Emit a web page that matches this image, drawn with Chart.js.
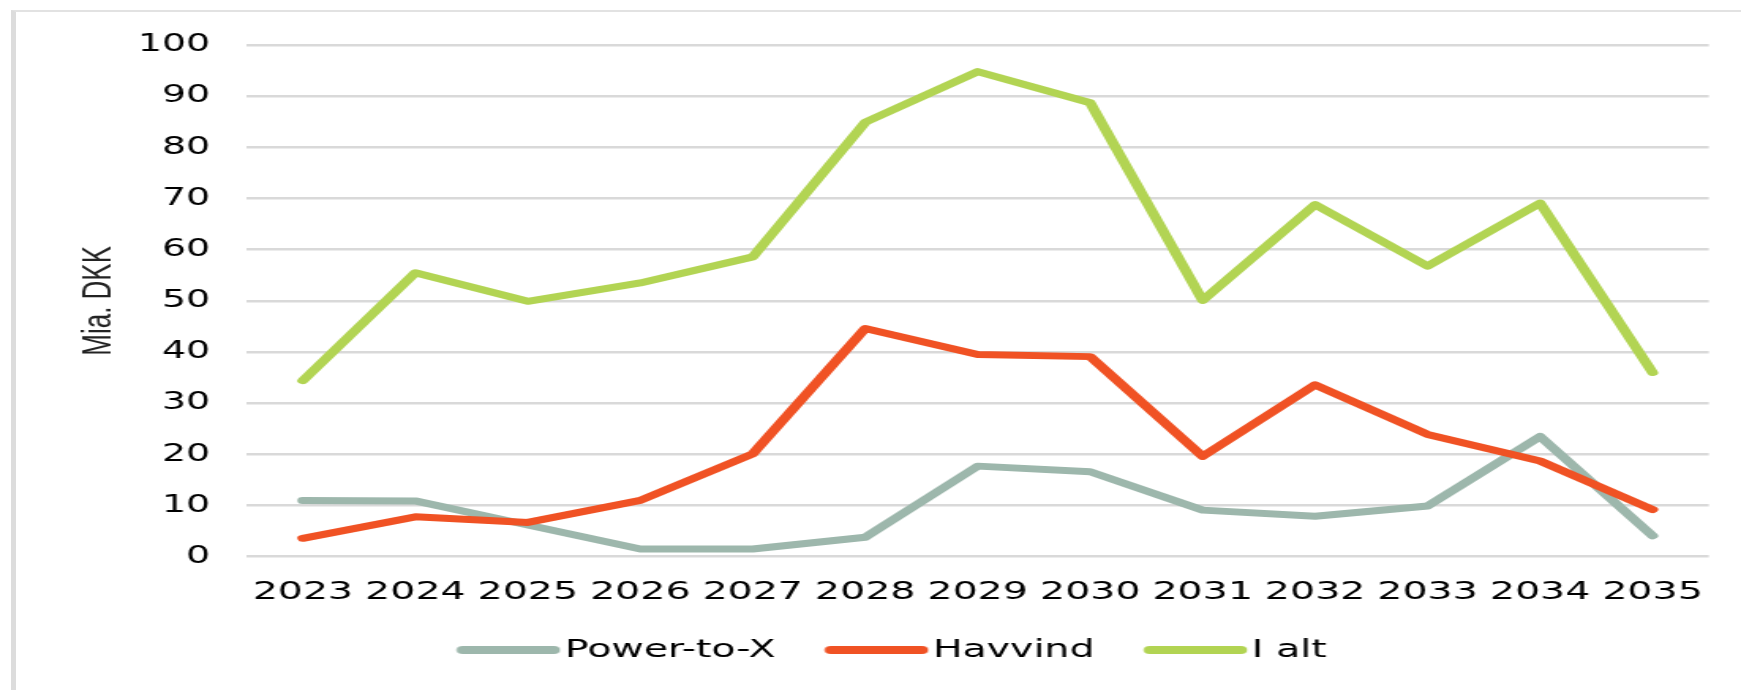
<!DOCTYPE html>
<html>
<head>
<meta charset="utf-8">
<script src="https://cdn.jsdelivr.net/npm/chart.js@4.4.1/dist/chart.umd.min.js"></script>
<style>
  html, body { margin: 0; padding: 0; background: #fff; }
  body { width: 1741px; height: 690px; overflow: hidden; position: relative; }
  #frame {
    position: absolute; left: 11px; top: 10px; width: 1800px; height: 720px;
    border-left: 5px solid #dcdcdc; border-top: 2px solid #e2e2e2;
  }
  #c { position: absolute; left: 0; top: 0; }
</style>
</head>
<body>
<div id="frame"></div>
<!-- the source picture is stretched sideways, so the canvas is drawn narrow and shown wide -->
<canvas id="c" width="1102" height="690" style="width:1741px;height:690px"></canvas>
<script>
var years = ['2023', '2024', '2025', '2026', '2027', '2028', '2029', '2030', '2031', '2032', '2033', '2034', '2035'];

// Mia. DKK
var powerToX = [11.0, 10.9, 6.2, 1.5, 1.5, 3.8, 17.7, 16.6, 9.1, 7.9, 9.9, 23.5, 4.1];
var havvind  = [3.6, 7.8, 6.7, 11.0, 20.1, 44.6, 39.5, 39.1, 19.6, 33.6, 23.9, 18.7, 9.2];
var iAlt     = [34.4, 55.5, 49.9, 53.5, 58.6, 84.9, 94.8, 88.7, 50.1, 68.8, 56.8, 69.1, 36.0];

var seriesNames = ['Power-to-X', 'Havvind', 'I alt'];
var seriesColors = ['#9db7ac', '#f05224', '#b2d453'];

var font = 'DejaVu Sans';

// legend swatch: a thick rounded line, placed close to the text
function legendLine(color) {
  var cv = document.createElement('canvas');
  cv.width = 76;
  cv.height = 10;
  var g = cv.getContext('2d');
  g.strokeStyle = color;
  g.lineWidth = 8;
  g.lineCap = 'round';
  g.beginPath();
  g.moveTo(13.7, 5);
  g.lineTo(71.2, 5);
  g.stroke();
  return cv;
}

function makeSet(i, values, order) {
  return {
    label: seriesNames[i],
    data: values,
    borderColor: seriesColors[i],
    backgroundColor: seriesColors[i],
    borderWidth: 7,
    borderCapStyle: 'round',
    borderJoinStyle: 'round',
    pointRadius: 0,
    tension: 0,
    order: order
  };
}

var chart = new Chart(document.getElementById('c'), {
  type: 'line',
  data: {
    labels: years,
    datasets: [
      makeSet(0, powerToX, 3),
      makeSet(1, havvind, 2),
      makeSet(2, iAlt, 1)
    ]
  },
  options: {
    responsive: false,
    animation: false,
    devicePixelRatio: 1,
    layout: {
      padding: { left: 47.7, right: 20.4, top: 45, bottom: 17.5 }
    },
    plugins: {
      tooltip: { enabled: false },
      legend: {
        position: 'bottom',
        labels: {
          usePointStyle: true,
          pointStyleWidth: 55.4,
          padding: 31.6,
          color: '#000',
          font: { family: font, size: 25 },
          generateLabels: function(ch) {
            return ch.data.datasets.map(function(ds, i) {
              return {
                text: ds.label,
                fillStyle: ds.borderColor,
                strokeStyle: ds.borderColor,
                lineWidth: 0,
                pointStyle: legendLine(ds.borderColor),
                hidden: false,
                datasetIndex: i
              };
            });
          }
        }
      }
    },
    scales: {
      x: {
        offset: true,
        grid: { display: false, drawTicks: false },
        border: { display: false },
        ticks: {
          padding: 21,
          color: '#000',
          maxRotation: 0,
          font: { family: font, size: 25 }
        },
        afterFit: function(scale) { scale.height = 49.2; }
      },
      y: {
        min: 0,
        max: 100,
        grid: { color: '#d9d9d9', lineWidth: 2.5, drawTicks: false },
        border: { display: false },
        ticks: {
          stepSize: 10,
          padding: 23,
          color: '#000',
          font: { family: font, size: 24 }
        },
        title: {
          display: true,
          text: 'Mia. DKK',
          color: '#222',
          padding: { top: 0, bottom: 0 },
          font: { family: 'Liberation Sans', size: 26 }
        },
        afterFit: function(scale) { scale.width = 108.4; }
      }
    }
  }
});
</script>
</body>
</html>
